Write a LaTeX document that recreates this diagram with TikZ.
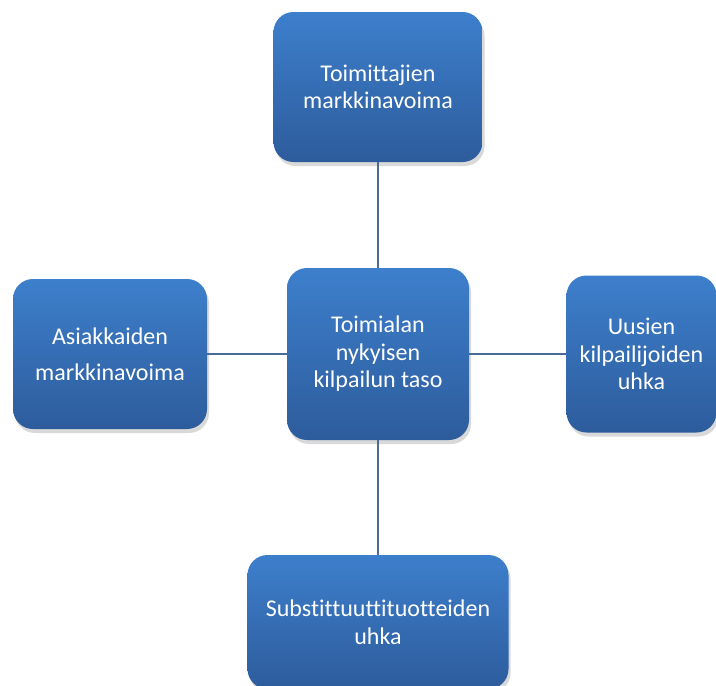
\documentclass[tikz,border=0pt]{standalone}
\usepackage{fontspec}
\setmainfont{Carlito}[Ligatures=NoCommon]
\usetikzlibrary{positioning,shadows}
\definecolor{boxtop}{HTML}{3D7FCC}
\definecolor{boxbot}{HTML}{2D5C9C}
\definecolor{linkcol}{HTML}{4A6B95}
\tikzset{
  force/.style={rounded corners=20pt, top color=boxtop, bottom color=boxbot,
    text=white, align=center, inner sep=4pt,
    font=\fontsize{24}{27.5}\selectfont,
    drop shadow={opacity=.3, shadow xshift=2pt, shadow yshift=-4pt}},
  link/.style={draw=linkcol, line width=1.6pt}
  }

\begin{document}
\begin{tikzpicture}[x=1pt, y=-1pt]
    \useasboundingbox (0,0) rectangle (716,686);

    \node [force, minimum width=182pt, minimum height=172pt] at (378,354) (center) {Toimialan\\nykyisen\\kilpailun taso};
    \node [force, minimum width=209pt, minimum height=150pt] at (378,87) (top) {Toimittajien\\markkinavoima};
    \node [force, minimum width=194pt, minimum height=150pt, font=\fontsize{24}{36}\selectfont] at (110,354) (left) {Asiakkaiden\\markkinavoima};
    \node [force, minimum width=150pt, minimum height=157pt] at (641.5,354) (right) {Uusien\\kilpailijoiden\\uhka};
    \node [force, minimum width=261pt, minimum height=134pt] at (378,622) (bottom) {Substittuuttituotteiden\\uhka};

    \draw [link] (top) -- (center);
    \draw [link] (left) -- (center);
    \draw [link] (center) -- (right);
    \draw [link] (center) -- (bottom);

\end{tikzpicture}
\end{document}
